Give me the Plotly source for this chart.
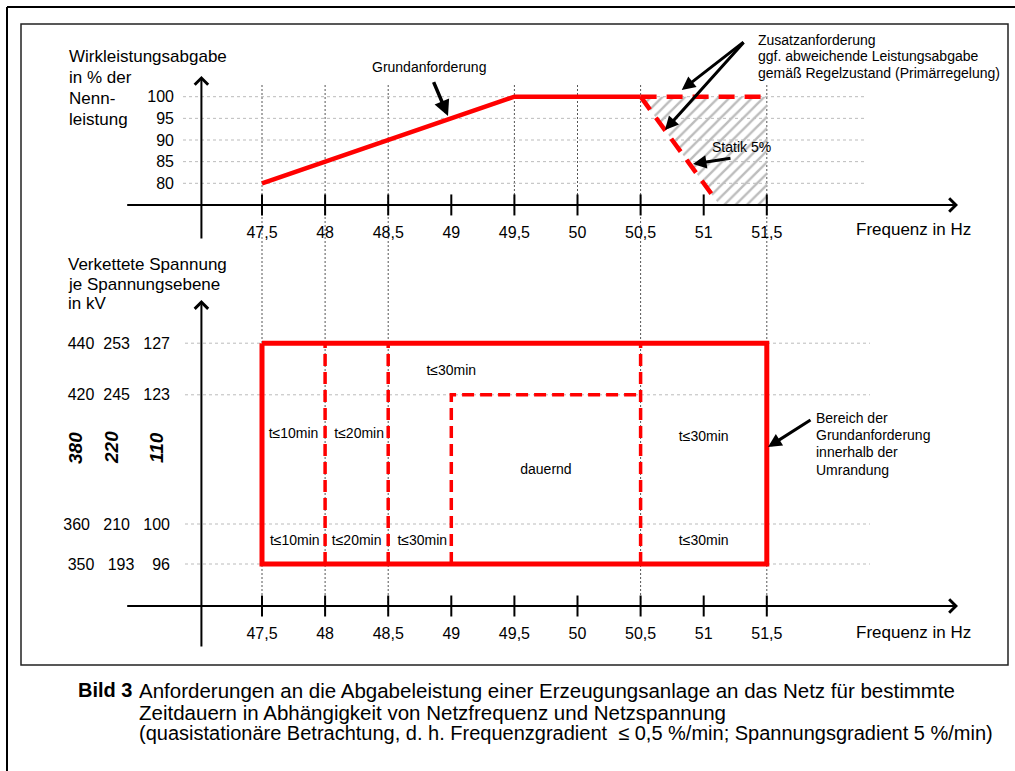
import plotly.graph_objects as go

W, H = 1015, 771
FONT = "Liberation Sans, Arial, sans-serif"

# ------------------------------------------------------------------ data
freq_ticks = [47.5, 48, 48.5, 49, 49.5, 50, 50.5, 51, 51.5]
freq_ticktext = ["47,5", "48", "48,5", "49", "49,5", "50", "50,5", "51", "51,5"]

power_ticks = [80, 85, 90, 95, 100]
power_ticktext = ["80", "85", "90", "95", "100"]

# Grundanforderung (solid red)
grund_f = [47.5, 49.5, 50.5]
grund_p = [80, 100, 100]
# Zusatzanforderung (dashed red)
zusatz_f = [50.5, 51.5]
zusatz_p = [100, 100]
statik_f = [50.5, 51.1]
statik_p = [100, 76]
# hatched area (Zusatzanforderung)
hatch_f = [50.5, 51.5, 51.5, 51.125, 50.5]
hatch_p = [100, 100, 75, 75, 100]

# voltage levels (lower chart), one row per level
volt_380 = [350, 360, 420, 440]
volt_220 = [193, 210, 245, 253]
volt_110 = [96, 100, 123, 127]
level_pos = [1.05, 2.05, 5.28, 6.57]   # schematic vertical position (not to scale)
nominal_kv = ["380", "220", "110"]

# outer frame of the Grundanforderung area
frame_f = [47.5, 51.5, 51.5, 47.5, 47.5]
frame_kv = [440, 440, 350, 350, 440]
# dashed time limits
limit_f = [48, 48.5, 50.5]
dauernd_f = [49, 49, 50.5]
dauernd_kv = [350, 420, 420]

region_text = ["t≤10min", "t≤20min", "t≤30min", "dauernd", "t≤30min",
               "t≤10min", "t≤20min", "t≤30min", "t≤30min"]
region_f = [47.75, 48.27, 49.0, 49.75, 51.0, 47.76, 48.25, 48.77, 51.0]
region_y = [4.3, 4.3, 5.86, 3.4, 4.22, 1.62, 1.62, 1.62, 1.62]

grid_f_full = [47.5, 48, 48.5, 50.5, 51.5]
grid_f_top = [49.5, 50]

# ------------------------------------------------------------------ helpers
lvl = dict(zip(volt_380, level_pos))
def px(x):
    return x / W
def py(y):
    return 1 - y / H

# x mapping: 47.5 -> 262 px, 126.2 px per Hz
XL = 47.5 - 262 / 126.2
XR = 47.5 + (W - 262) / 126.2
# top y: 80 -> 183.3 px, 4.33 px per %
TOP_D = [py(250), py(24)]
TOP_R = [80 - (250 - 183.3) / 4.33, 80 + (183.3 - 24) / 4.33]
# lower y: 0 -> 606 px, 40 px per unit
LOW_D = [py(665), py(280)]
LOW_R = [(606 - 665) / 40, (606 - 280) / 40]

RED = "#FF0000"
fig = go.Figure()

# hatched area
fig.add_trace(go.Scatter(x=hatch_f, y=hatch_p, mode="lines", fill="toself",
                         fillcolor="rgba(255,255,255,0)",
                         line=dict(width=0, color="rgba(255,255,255,0)"),
                         fillpattern=dict(shape="/", fgcolor="#BDBDBD", bgcolor="rgba(255,255,255,0)",
                                          fgopacity=1, size=8, solidity=0.3),
                         hoverinfo="skip", xaxis="x", yaxis="y"))
# red lines top
fig.add_trace(go.Scatter(x=grund_f, y=grund_p, mode="lines",
                         line=dict(color=RED, width=4.5), xaxis="x", yaxis="y"))
fig.add_trace(go.Scatter(x=zusatz_f, y=zusatz_p, mode="lines",
                         line=dict(color=RED, width=4.5, dash="16px,10px"), xaxis="x", yaxis="y"))
fig.add_trace(go.Scatter(x=statik_f, y=statik_p, mode="lines",
                         line=dict(color=RED, width=4.5, dash="16px,10px"), xaxis="x", yaxis="y"))
# tick marks (crossing the axes)
fig.add_trace(go.Scatter(x=freq_ticks, y=[75] * len(freq_ticks), mode="markers",
                         marker=dict(symbol="line-ns", size=15, line=dict(width=2, color="black")),
                         xaxis="x", yaxis="y"))
fig.add_trace(go.Scatter(x=freq_ticks, y=[0] * len(freq_ticks), mode="markers",
                         marker=dict(symbol="line-ns", size=15, line=dict(width=2, color="black")),
                         xaxis="x2", yaxis="y2"))

# lower chart
for f in limit_f:
    fig.add_trace(go.Scatter(x=[f, f], y=[lvl[350], lvl[440]], mode="lines",
                             line=dict(color=RED, width=3.5, dash="12px,6px"),
                             xaxis="x2", yaxis="y2"))
fig.add_trace(go.Scatter(x=dauernd_f, y=[lvl[v] for v in dauernd_kv], mode="lines",
                         line=dict(color=RED, width=3.5, dash="12px,6px"),
                         xaxis="x2", yaxis="y2"))
fig.add_trace(go.Scatter(x=frame_f, y=[lvl[v] for v in frame_kv], mode="lines",
                         line=dict(color=RED, width=5), xaxis="x2", yaxis="y2"))
fig.add_trace(go.Scatter(x=region_f, y=region_y, mode="text", text=region_text,
                         textposition="middle center",
                         textfont=dict(size=14, color="black", family=FONT),
                         xaxis="x2", yaxis="y2"))

# ------------------------------------------------------------------ shapes
shapes = []
for f in grid_f_full:
    shapes.append(dict(type="line", xref="x", yref="paper", x0=f, x1=f, y0=py(85), y1=py(613),
                       line=dict(color="#555555", width=1, dash="2px,2px"), layer="below"))
for f in grid_f_top:
    shapes.append(dict(type="line", xref="x", yref="paper", x0=f, x1=f, y0=py(85), y1=py(212),
                       line=dict(color="#555555", width=1, dash="2px,2px"), layer="below"))
for p in power_ticks:
    shapes.append(dict(type="line", xref="paper", yref="y", x0=px(183), x1=px(867), y0=p, y1=p,
                       line=dict(color="#BBBBBB", width=1, dash="3px,3px"), layer="below"))
for v in level_pos:
    shapes.append(dict(type="line", xref="paper", yref="y2", x0=px(185), x1=px(870), y0=v, y1=v,
                       line=dict(color="#BBBBBB", width=1, dash="3px,3px"), layer="below"))
# frames
shapes.append(dict(type="rect", xref="paper", yref="paper", x0=px(21), x1=px(1008),
                   y0=py(665), y1=py(24), line=dict(color="#222222", width=1.5)))
shapes.append(dict(type="line", xref="paper", yref="paper", x0=px(7), x1=px(7),
                   y0=py(7), y1=0, line=dict(color="black", width=2)))
shapes.append(dict(type="line", xref="paper", yref="paper", x0=px(7), x1=1,
                   y0=py(7), y1=py(7), line=dict(color="black", width=2)))

# ------------------------------------------------------------------ annotations
ann = []
def arrow(x, y, ax, ay, xr, yr, head, size, width):
    ann.append(dict(x=x, y=y, ax=ax, ay=ay, xref=xr, yref=yr, axref=xr, ayref=yr,
                    text="", showarrow=True, arrowhead=head, arrowsize=size,
                    arrowwidth=width, arrowcolor="black", standoff=0))
# axes
arrow(53.015, 75, 46.42, 75, "x", "y", 4, 1.3, 2)
arrow(47.02, 104.8, 47.02, 66.9, "x", "y", 4, 1.3, 2)
arrow(53.015, 0, 46.42, 0, "x2", "y2", 4, 1.3, 2)
arrow(47.02, 7.65, 47.02, -1.05, "x2", "y2", 4, 1.3, 2)
# callouts
arrow(48.974, 95.54, 48.855, 103.7, "x", "y", 2, 0.9, 3.5)
arrow(50.826, 101.55, 51.327, 112.86, "x", "y", 2, 0.9, 3)
arrow(50.693, 92.31, 51.327, 112.86, "x", "y", 2, 0.9, 3)
arrow(50.915, 84.46, 51.224, 85.84, "x", "y", 2, 0.9, 3)
arrow(51.51, 3.975, 51.858, 4.675, "x2", "y2", 2, 0.9, 3)

def text(t, x, y, size, xanchor="left", yanchor="middle", angle=0):
    ann.append(dict(text=t, x=px(x), y=py(y), xref="paper", yref="paper",
                    xanchor=xanchor, yanchor=yanchor, showarrow=False, textangle=angle,
                    font=dict(size=size, color="black", family=FONT), align="left"))

for t, y in zip(["Wirkleistungsabgabe", "in % der", "Nenn-", "leistung"], [57, 78, 99, 119]):
    text(t, 67, y, 17)
for t, y in zip(["Verkettete Spannung", "je Spannungsebene", "in kV"], [264, 284, 304]):
    text(t, 66, y, 17)
text("Frequenz in Hz", 854, 229, 17)
text("Frequenz in Hz", 854, 632, 17)
text("Grundanforderung", 429, 67, 14, xanchor="center")
for t, y in zip(["Zusatzanforderung", "ggf. abweichende Leistungsabgabe",
                 "gemäß Regelzustand (Primärregelung)"], [40, 56, 73]):
    text(t, 756, y, 14)
text("Statik 5%", 710, 147, 14)
for t, y in zip(["Bereich der", "Grundanforderung", "innerhalb der", "Umrandung"],
                [418, 435, 452, 470]):
    text(t, 814, y, 14)
for t, x in zip(nominal_kv, [75, 111, 156]):
    text("<b><i>" + t + "</i></b>", x, 448, 19, xanchor="center", angle=-90)

text("<b>Bild 3</b>", 76, 690, 20)
caption = ["Anforderungen an die Abgabeleistung einer Erzeugungsanlage an das Netz für bestimmte",
           "Zeitdauern in Abhängigkeit von Netzfrequenz und Netzspannung",
           "(quasistationäre Betrachtung, d. h. Frequenzgradient  ≤ 0,5 %/min; Spannungsgradient 5 %/min)"]
for t, y, s in zip(caption, [690, 712, 733], [20.5, 20.5, 20]):
    text(t, 137, y, s)

# lower y tick texts
NB = "\u00a0"
gaps = [(3, 4), (3, 3), (2, 3), (2, 3)]
volt_ticktext = [f"{a}{NB * g1}{b}{NB * g2}{c}" for a, b, c, (g1, g2)
                 in zip(volt_380, volt_220, volt_110, gaps)]

tickfont = dict(size=16, color="black", family=FONT)
xcommon = dict(range=[XL, XR], domain=[0, 1], showgrid=False, zeroline=False, showline=False,
               tickmode="array", tickvals=freq_ticks, ticktext=freq_ticktext,
               ticks="outside", ticklen=13, tickcolor="rgba(0,0,0,0)", tickfont=tickfont,
               anchor="free")
fig.update_layout(
    width=W, height=H, margin=dict(l=0, r=0, t=0, b=0),
    paper_bgcolor="white", plot_bgcolor="rgba(0,0,0,0)", showlegend=False,
    xaxis=dict(**xcommon, position=py(205)),
    xaxis2=dict(**xcommon, position=py(606), matches="x"),
    yaxis=dict(domain=TOP_D, range=TOP_R, anchor="free", position=px(174),
               showgrid=False, zeroline=False, showline=False, tickmode="array",
               tickvals=power_ticks, ticktext=power_ticktext, ticks="", tickfont=tickfont),
    yaxis2=dict(domain=LOW_D, range=LOW_R, anchor="free", position=px(170),
                showgrid=False, zeroline=False, showline=False, tickmode="array",
                tickvals=level_pos, ticktext=volt_ticktext, ticks="", tickfont=tickfont),
    shapes=shapes, annotations=ann,
)

fig.write_html("out.html", config={"displayModeBar": False},
               post_script="document.body.style.margin='0px';")
